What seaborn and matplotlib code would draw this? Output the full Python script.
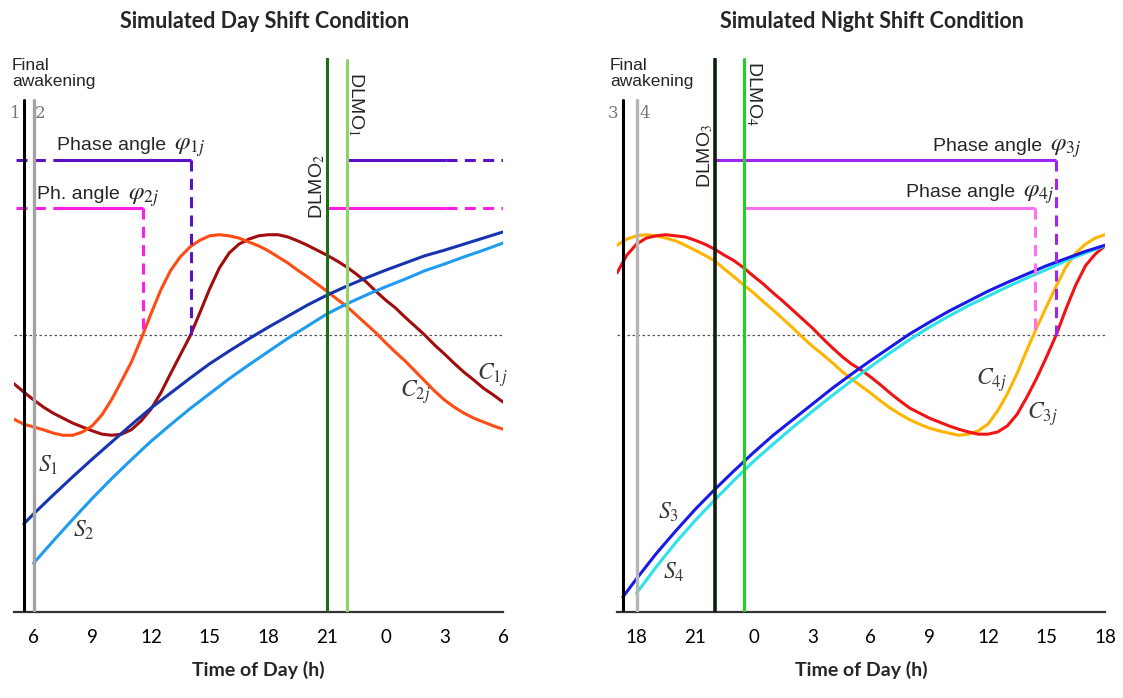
import matplotlib
matplotlib.use("Agg")
import matplotlib.pyplot as plt
import numpy as np
import seaborn as sns

# levels are normalised: 0 = time axis, 0.5 = dotted threshold, 1 = top of the panel
# C curves read every half hour, S curves every hour
day_c_hours = np.arange(5, 30.5, 0.5)
day_c1 = [0.412, 0.397, 0.383, 0.370, 0.359, 0.350, 0.341, 0.334, 0.327, 0.321,
          0.319, 0.321, 0.329, 0.345, 0.366, 0.395, 0.430, 0.464, 0.498, 0.540,
          0.583, 0.621, 0.648, 0.664, 0.673, 0.679, 0.681, 0.681, 0.677, 0.670,
          0.662, 0.653, 0.644, 0.634, 0.623, 0.610, 0.596, 0.579, 0.563, 0.549,
          0.532, 0.516, 0.500, 0.482, 0.466, 0.449, 0.433, 0.419, 0.404, 0.392,
          0.379]
day_c2 = [0.348, 0.339, 0.334, 0.329, 0.323, 0.319, 0.319, 0.325, 0.336, 0.356,
          0.384, 0.417, 0.451, 0.493, 0.538, 0.581, 0.616, 0.641, 0.659, 0.671,
          0.679, 0.681, 0.679, 0.675, 0.668, 0.661, 0.652, 0.641, 0.630, 0.617,
          0.605, 0.592, 0.579, 0.565, 0.552, 0.536, 0.520, 0.504, 0.486, 0.469,
          0.453, 0.435, 0.417, 0.399, 0.383, 0.370, 0.359, 0.350, 0.343, 0.336,
          0.330]
day_s1_hours = [5.5] + list(range(6, 31))
day_s1 = [0.159, 0.177, 0.211, 0.244, 0.276, 0.307, 0.338, 0.368, 0.395, 0.422,
          0.448, 0.471, 0.493, 0.514, 0.534, 0.554, 0.572, 0.588, 0.603, 0.617,
          0.630, 0.643, 0.653, 0.664, 0.675, 0.686]
day_s2_hours = list(range(6, 31))
day_s2 = [0.088, 0.128, 0.167, 0.205, 0.241, 0.275, 0.308, 0.338, 0.367, 0.394,
          0.421, 0.446, 0.470, 0.494, 0.516, 0.538, 0.556, 0.572, 0.587, 0.601,
          0.616, 0.628, 0.641, 0.653, 0.666]

night_c_hours = np.arange(17, 42.5, 0.5)
night_c3 = [0.612, 0.644, 0.664, 0.675, 0.679, 0.681, 0.679, 0.677, 0.671, 0.664,
            0.655, 0.644, 0.634, 0.621, 0.606, 0.592, 0.576, 0.561, 0.545, 0.529,
            0.513, 0.495, 0.478, 0.462, 0.448, 0.437, 0.424, 0.410, 0.395, 0.381,
            0.368, 0.359, 0.350, 0.343, 0.336, 0.330, 0.325, 0.321, 0.321, 0.325,
            0.336, 0.357, 0.388, 0.422, 0.460, 0.500, 0.547, 0.590, 0.625, 0.646,
            0.661]
night_c4 = [0.662, 0.673, 0.679, 0.681, 0.679, 0.675, 0.670, 0.662, 0.653, 0.644,
            0.634, 0.619, 0.605, 0.590, 0.576, 0.560, 0.545, 0.529, 0.513, 0.496,
            0.480, 0.466, 0.451, 0.435, 0.421, 0.408, 0.395, 0.381, 0.368, 0.357,
            0.347, 0.339, 0.332, 0.327, 0.323, 0.319, 0.321, 0.327, 0.339, 0.363,
            0.394, 0.431, 0.473, 0.513, 0.551, 0.588, 0.623, 0.648, 0.664, 0.675,
            0.681]
night_s3_hours = [17.3] + list(range(18, 43))
night_s3 = [0.027, 0.060, 0.105, 0.146, 0.185, 0.221, 0.255, 0.288, 0.319, 0.347,
            0.375, 0.403, 0.429, 0.454, 0.478, 0.502, 0.523, 0.543, 0.561, 0.579,
            0.595, 0.610, 0.625, 0.638, 0.651, 0.662]
night_s4_hours = list(range(18, 43))
night_s4 = [0.034, 0.081, 0.125, 0.165, 0.202, 0.238, 0.272, 0.303, 0.333, 0.362,
            0.390, 0.417, 0.443, 0.468, 0.492, 0.514, 0.534, 0.553, 0.570, 0.587,
            0.603, 0.618, 0.634, 0.648, 0.661]

day_ticks = list(range(6, 31, 3))
night_ticks = list(range(18, 43, 3))

day_wake = [5.5, 6.0]          # final awakening 1, 2
night_wake = [17.3, 18.0]      # final awakening 3, 4
day_dlmo = [22.0, 21.0]        # DLMO1, DLMO2
night_dlmo = [22.0, 23.5]      # DLMO3, DLMO4
day_cross = [14.05, 11.57]     # C1j, C2j reach the threshold
night_cross = [39.5, 38.4]     # C3j, C4j reach the threshold
phase_levels = [0.816, 0.729]
threshold = 0.5

sns.set_style("white")
plt.rcParams["font.family"] = ["Liberation Sans", "DejaVu Sans"]
plt.rcParams["mathtext.fontset"] = "stix"

fig = plt.figure(figsize=(11.23, 6.98), dpi=100)
ax_day = fig.add_axes([14 / 1123, 86 / 698, 489 / 1123, 554 / 698])
ax_night = fig.add_axes([617 / 1123, 86 / 698, 488 / 1123, 554 / 698])
renderer = fig.canvas.get_renderer()

DASH = (0, (3.6, 2.4))
LABEL_GREY = "#3a3a3a"


def setup_axis(ax, start, ticks):
    ax.set_xlim(start, start + 25)
    ax.set_ylim(0, 1)
    sns.despine(ax=ax, left=True)
    ax.spines["bottom"].set_linewidth(1.6)
    ax.spines["bottom"].set_color("#333333")
    ax.set_yticks([])
    ax.set_xticks(ticks)
    ax.set_xticklabels([str(t % 24) for t in ticks], fontfamily="Lato", fontsize=13.5)
    ax.tick_params(axis="x", direction="out", length=7, width=1.5,
                   color="#333333", labelcolor="black", pad=5)
    ax.set_xlabel("Time of Day (h)", fontfamily="Lato", fontweight="bold",
                  fontsize=14, labelpad=11)
    ax.axhline(threshold, color="#555555", lw=0.9, ls=(0, (2, 2)), zorder=1)


def curve(ax, x, y, color):
    sns.lineplot(x=x, y=y, ax=ax, color=color, linewidth=2.2, zorder=3)


def seg(ax, xs, ys, color, ls="-"):
    ax.plot(xs, ys, color=color, lw=2.2, ls=ls, zorder=4, solid_capstyle="butt")


def to_data(ax, artist):
    return artist.get_window_extent(renderer).transformed(ax.transData.inverted())


def phase_label(ax, x, y, words, symbol, align="left", gap=0.4):
    # words in sans, the angle symbol a size larger in serif math
    if align == "left":
        t = ax.text(x, y, words, fontsize=14, va="baseline")
        ax.text(to_data(ax, t).x1 + gap, y, symbol, fontsize=18, va="baseline")
    else:
        s = ax.text(x, y, symbol, fontsize=18, ha="right", va="baseline")
        ax.text(to_data(ax, s).x0 - gap, y, words, fontsize=14, ha="right", va="baseline")


# ---- day shift ----
ax = ax_day
setup_axis(ax, 5, day_ticks)
curve(ax, day_c_hours, day_c1, "#a10d0d")
curve(ax, day_c_hours, day_c2, "#ff4b14")
curve(ax, day_s1_hours, day_s1, "#1634b0")
curve(ax, day_s2_hours, day_s2, "#1e9cf0")

ax.axvline(day_wake[0], ymax=0.924, color="black", lw=2.2, zorder=5)
ax.axvline(day_wake[1], ymax=0.924, color="#a3a3a3", lw=2.4, zorder=5)
ax.axvline(day_dlmo[1], ymax=1.0, color="#1e6e14", lw=2.2, zorder=5)
ax.axvline(day_dlmo[0], ymax=0.996, color="#8fd36a", lw=2.2, zorder=5)

for level, dlmo, cross, color in zip(phase_levels, day_dlmo, day_cross,
                                     ["#5a10c4", "#ff1ee6"]):
    seg(ax, [dlmo, 27.1], [level, level], color)
    seg(ax, [27.1, 30.0], [level, level], color, DASH)
    seg(ax, [5.1, 7.0], [level, level], color, DASH)
    seg(ax, [7.0, cross], [level, level], color)
    seg(ax, [cross, cross], [level, threshold], color, DASH)

phase_label(ax, 7.2, 0.834, "Phase angle", r"$\varphi_{1j}$")
phase_label(ax, 6.2, 0.745, "Ph. angle", r"$\varphi_{2j}$")
ax.text(4.9, 1.0, "Final\nawakening", fontsize=12.5, va="top", linespacing=1.05)
ax.text(5.05, 0.90, "1", fontsize=12, color="#777777", family="DejaVu Serif",
        ha="center", va="center")
ax.text(6.35, 0.90, "2", fontsize=12, color="#777777", family="DejaVu Serif",
        ha="center", va="center")
ax.text(20.5, 0.71, r"DLMO$_2$", fontsize=14, rotation=90, ha="center", va="bottom")
ax.text(22.5, 0.975, r"DLMO$_1$", fontsize=14, rotation=-90, ha="center", va="top")

ax.text(6.74, 0.264, r"$S_1$", fontsize=17, color=LABEL_GREY, ha="center", va="center")
ax.text(8.55, 0.148, r"$S_2$", fontsize=17, color=LABEL_GREY, ha="center", va="center")
ax.text(29.45, 0.428, r"$C_{1j}$", fontsize=17, color=LABEL_GREY, ha="center", va="center")
ax.text(25.5, 0.397, r"$C_{2j}$", fontsize=17, color=LABEL_GREY, ha="center", va="center")

# ---- night shift ----
ax = ax_night
setup_axis(ax, 17, night_ticks)
curve(ax, night_c_hours, night_c4, "#ffb400")
curve(ax, night_c_hours, night_c3, "#f01414")
curve(ax, night_s4_hours, night_s4, "#2ee2ea")
curve(ax, night_s3_hours, night_s3, "#1a1ae8")

ax.axvline(night_wake[0], ymax=0.924, color="black", lw=2.2, zorder=5)
ax.axvline(night_wake[1], ymax=0.924, color="#b5b5b5", lw=2.4, zorder=5)
ax.axvline(night_dlmo[0], ymax=0.998, color="#0f1f0f", lw=2.6, zorder=5)
ax.axvline(night_dlmo[1], ymax=0.998, color="#22d022", lw=2.2, zorder=5)

for level, dlmo, cross, color in zip(phase_levels, night_dlmo, night_cross,
                                     ["#a024f2", "#ff70f0"]):
    seg(ax, [dlmo, cross], [level, level], color)
    seg(ax, [cross, cross], [level, threshold], color, DASH)

phase_label(ax, 40.8, 0.832, "Phase angle", r"$\varphi_{3j}$", align="right")
phase_label(ax, 39.4, 0.749, "Phase angle", r"$\varphi_{4j}$", align="right")
ax.text(16.64, 1.0, "Final\nawakening", fontsize=12.5, va="top", linespacing=1.05)
ax.text(16.8, 0.90, "3", fontsize=12, color="#777777", family="DejaVu Serif",
        ha="center", va="center")
ax.text(18.4, 0.90, "4", fontsize=12, color="#777777", family="DejaVu Serif",
        ha="center", va="center")
ax.text(21.5, 0.765, r"DLMO$_3$", fontsize=14, rotation=90, ha="center", va="bottom")
ax.text(24.0, 0.995, r"DLMO$_4$", fontsize=14, rotation=-90, ha="center", va="top")

ax.text(19.64, 0.179, r"$S_3$", fontsize=17, color=LABEL_GREY, ha="center", va="center")
ax.text(19.9, 0.072, r"$S_4$", fontsize=17, color=LABEL_GREY, ha="center", va="center")
ax.text(36.2, 0.419, r"$C_{4j}$", fontsize=17, color=LABEL_GREY, ha="center", va="center")
ax.text(38.8, 0.357, r"$C_{3j}$", fontsize=17, color=LABEL_GREY, ha="center", va="center")

fig.text(265 / 1123, 1 - 22 / 698, "Simulated Day Shift Condition", fontfamily="Lato",
         fontweight="bold", fontsize=15.5, ha="center", va="center")
fig.text(872 / 1123, 1 - 22 / 698, "Simulated Night Shift Condition", fontfamily="Lato",
         fontweight="bold", fontsize=15.5, ha="center", va="center")

fig.savefig("out.png", dpi=100, facecolor="white")
